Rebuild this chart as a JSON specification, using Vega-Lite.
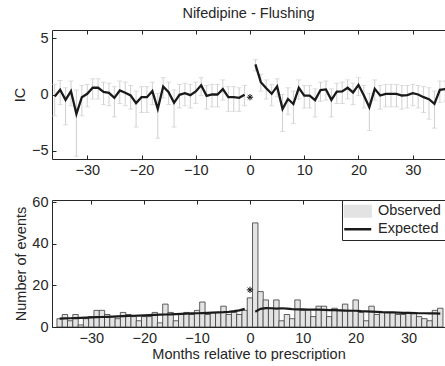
{
  "$schema": "https://vega.github.io/schema/vega-lite/v6.json",
  "padding": {"left": 12, "top": 6, "right": 0, "bottom": 0},
  "spacing": 17,
  "resolve": {"legend": {"color": "independent"}},
  "config": {
    "font": "Liberation Sans",
    "view": {"stroke": null},
    "axis": {
      "domainColor": "#262626", "tickColor": "#262626", "labelColor": "#262626", "titleColor": "#262626",
      "labelFont": "Liberation Sans", "titleFont": "Liberation Sans",
      "labelFontSize": 14.5, "titleFontSize": 14.5, "titleFontWeight": "normal",
      "grid": false, "tickSize": -4, "labelPadding": 8, "domainWidth": 1, "tickWidth": 1
    },
    "legend": {
      "orient": "top-right", "offset": 0, "padding": 4, "rowPadding": 1,
      "strokeColor": "#262626", "fillColor": "white",
      "labelFont": "Liberation Sans", "labelFontSize": 14.5, "labelColor": "#262626",
      "symbolSize": 324, "symbolOffset": 4.5, "labelOffset": 13
    }
  },
  "datasets": {
    "ic": [
      {"m": -36, "ic": -0.18, "lo": -1.9, "hi": 0.9, "side": "pre"},
      {"m": -35, "ic": 0.42, "lo": -0.9, "hi": 1.25, "side": "pre"},
      {"m": -34, "ic": -0.48, "lo": -2.7, "hi": 0.6, "side": "pre"},
      {"m": -33, "ic": 0.3, "lo": -1.0, "hi": 1.2, "side": "pre"},
      {"m": -32, "ic": -1.73, "lo": -5.5, "hi": 0.4, "side": "pre"},
      {"m": -31, "ic": -0.24, "lo": -1.9, "hi": 0.8, "side": "pre"},
      {"m": -30, "ic": 0.06, "lo": -1.1, "hi": 0.9, "side": "pre"},
      {"m": -29, "ic": 0.6, "lo": -0.4, "hi": 1.4, "side": "pre"},
      {"m": -28, "ic": 0.6, "lo": -0.4, "hi": 1.4, "side": "pre"},
      {"m": -27, "ic": 0.24, "lo": -0.9, "hi": 1.1, "side": "pre"},
      {"m": -26, "ic": 0.15, "lo": -1.0, "hi": 1.0, "side": "pre"},
      {"m": -25, "ic": -0.3, "lo": -2.0, "hi": 0.7, "side": "pre"},
      {"m": -24, "ic": 0.36, "lo": -0.8, "hi": 1.2, "side": "pre"},
      {"m": -23, "ic": 0.15, "lo": -1.0, "hi": 1.1, "side": "pre"},
      {"m": -22, "ic": -0.09, "lo": -1.3, "hi": 0.8, "side": "pre"},
      {"m": -21, "ic": -0.77, "lo": -2.9, "hi": 0.3, "side": "pre"},
      {"m": -20, "ic": -0.24, "lo": -1.6, "hi": 0.7, "side": "pre"},
      {"m": -19, "ic": -0.24, "lo": -1.6, "hi": 0.7, "side": "pre"},
      {"m": -18, "ic": 0.3, "lo": -0.9, "hi": 1.1, "side": "pre"},
      {"m": -17, "ic": -1.28, "lo": -3.9, "hi": 0.1, "side": "pre"},
      {"m": -16, "ic": 0.71, "lo": -0.3, "hi": 1.5, "side": "pre"},
      {"m": -15, "ic": 0.2, "lo": -0.9, "hi": 1.1, "side": "pre"},
      {"m": -14, "ic": -0.74, "lo": -2.9, "hi": 0.4, "side": "pre"},
      {"m": -13, "ic": -0.03, "lo": -1.2, "hi": 0.9, "side": "pre"},
      {"m": -12, "ic": 0.12, "lo": -1.0, "hi": 1.0, "side": "pre"},
      {"m": -11, "ic": -0.06, "lo": -1.2, "hi": 0.9, "side": "pre"},
      {"m": -10, "ic": 0.27, "lo": -0.8, "hi": 1.1, "side": "pre"},
      {"m": -9, "ic": 0.83, "lo": -0.1, "hi": 1.5, "side": "pre"},
      {"m": -8, "ic": -0.12, "lo": -1.3, "hi": 0.8, "side": "pre"},
      {"m": -7, "ic": 0.0, "lo": -1.1, "hi": 0.9, "side": "pre"},
      {"m": -6, "ic": 0.0, "lo": -1.1, "hi": 0.9, "side": "pre"},
      {"m": -5, "ic": 0.48, "lo": -0.5, "hi": 1.3, "side": "pre"},
      {"m": -4, "ic": -0.24, "lo": -1.5, "hi": 0.7, "side": "pre"},
      {"m": -3, "ic": -0.24, "lo": -1.5, "hi": 0.7, "side": "pre"},
      {"m": -2, "ic": -0.3, "lo": -1.5, "hi": 0.6, "side": "pre"},
      {"m": -1, "ic": -0.03, "lo": -1.0, "hi": 0.8, "side": "pre"},
      {"m": 1, "ic": 2.68, "lo": 2.1, "hi": 3.1, "side": "post"},
      {"m": 2, "ic": 1.1, "lo": 0.3, "hi": 1.8, "side": "post"},
      {"m": 3, "ic": 0.55, "lo": -0.4, "hi": 1.3, "side": "post"},
      {"m": 4, "ic": 0.06, "lo": -1.0, "hi": 0.9, "side": "post"},
      {"m": 5, "ic": 0.72, "lo": -0.2, "hi": 1.4, "side": "post"},
      {"m": 6, "ic": -1.3, "lo": -3.3, "hi": 0.0, "side": "post"},
      {"m": 7, "ic": -0.4, "lo": -1.8, "hi": 0.6, "side": "post"},
      {"m": 8, "ic": -0.85, "lo": -2.6, "hi": 0.3, "side": "post"},
      {"m": 9, "ic": 0.6, "lo": -0.4, "hi": 1.3, "side": "post"},
      {"m": 10, "ic": -0.1, "lo": -1.2, "hi": 0.8, "side": "post"},
      {"m": 11, "ic": -0.1, "lo": -1.2, "hi": 0.8, "side": "post"},
      {"m": 12, "ic": -0.5, "lo": -2.0, "hi": 0.5, "side": "post"},
      {"m": 13, "ic": 0.4, "lo": -0.6, "hi": 1.1, "side": "post"},
      {"m": 14, "ic": 0.45, "lo": -0.5, "hi": 1.2, "side": "post"},
      {"m": 15, "ic": -0.48, "lo": -2.0, "hi": 0.5, "side": "post"},
      {"m": 16, "ic": 0.25, "lo": -0.8, "hi": 1.0, "side": "post"},
      {"m": 17, "ic": 0.28, "lo": -0.8, "hi": 1.1, "side": "post"},
      {"m": 18, "ic": 0.6, "lo": -0.4, "hi": 1.3, "side": "post"},
      {"m": 19, "ic": 0.18, "lo": -0.9, "hi": 1.0, "side": "post"},
      {"m": 20, "ic": 0.86, "lo": -0.1, "hi": 1.5, "side": "post"},
      {"m": 21, "ic": -0.09, "lo": -1.2, "hi": 0.8, "side": "post"},
      {"m": 22, "ic": -1.13, "lo": -3.2, "hi": 0.1, "side": "post"},
      {"m": 23, "ic": 0.5, "lo": -0.5, "hi": 1.3, "side": "post"},
      {"m": 24, "ic": -0.09, "lo": -1.3, "hi": 0.8, "side": "post"},
      {"m": 25, "ic": 0.06, "lo": -1.1, "hi": 0.9, "side": "post"},
      {"m": 26, "ic": 0.06, "lo": -1.1, "hi": 0.9, "side": "post"},
      {"m": 27, "ic": 0.06, "lo": -1.1, "hi": 0.9, "side": "post"},
      {"m": 28, "ic": -0.09, "lo": -1.3, "hi": 0.8, "side": "post"},
      {"m": 29, "ic": -0.06, "lo": -1.2, "hi": 0.8, "side": "post"},
      {"m": 30, "ic": 0.12, "lo": -1.0, "hi": 0.9, "side": "post"},
      {"m": 31, "ic": 0.0, "lo": -1.2, "hi": 0.8, "side": "post"},
      {"m": 32, "ic": -0.24, "lo": -1.6, "hi": 0.7, "side": "post"},
      {"m": 33, "ic": -0.42, "lo": -2.2, "hi": 0.6, "side": "post"},
      {"m": 34, "ic": -0.83, "lo": -3.0, "hi": 0.3, "side": "post"},
      {"m": 35, "ic": 0.42, "lo": -0.7, "hi": 1.2, "side": "post"},
      {"m": 36, "ic": 0.48, "lo": -0.6, "hi": 1.2, "side": "post"}
    ],
    "star": [{"m": 0, "ic": -0.24, "obs": 14}],
    "cnt": [
      {"m": -36, "obs": 4}, {"m": -35, "obs": 6}, {"m": -34, "obs": 3}, {"m": -33, "obs": 6},
      {"m": -32, "obs": 1}, {"m": -31, "obs": 4}, {"m": -30, "obs": 5}, {"m": -29, "obs": 8},
      {"m": -28, "obs": 8}, {"m": -27, "obs": 6}, {"m": -26, "obs": 5}, {"m": -25, "obs": 4},
      {"m": -24, "obs": 7}, {"m": -23, "obs": 6}, {"m": -22, "obs": 5}, {"m": -21, "obs": 3},
      {"m": -20, "obs": 5}, {"m": -19, "obs": 5}, {"m": -18, "obs": 7}, {"m": -17, "obs": 2},
      {"m": -16, "obs": 11}, {"m": -15, "obs": 7}, {"m": -14, "obs": 3}, {"m": -13, "obs": 6},
      {"m": -12, "obs": 7}, {"m": -11, "obs": 6}, {"m": -10, "obs": 8}, {"m": -9, "obs": 12},
      {"m": -8, "obs": 6}, {"m": -7, "obs": 7}, {"m": -6, "obs": 7}, {"m": -5, "obs": 10},
      {"m": -4, "obs": 6}, {"m": -3, "obs": 7}, {"m": -2, "obs": 6}, {"m": -1, "obs": 8},
      {"m": 0, "obs": 14}, {"m": 1, "obs": 50}, {"m": 2, "obs": 17}, {"m": 3, "obs": 13},
      {"m": 4, "obs": 9}, {"m": 5, "obs": 13}, {"m": 6, "obs": 3}, {"m": 7, "obs": 6},
      {"m": 8, "obs": 4}, {"m": 9, "obs": 13}, {"m": 10, "obs": 8}, {"m": 11, "obs": 8},
      {"m": 12, "obs": 5}, {"m": 13, "obs": 10}, {"m": 14, "obs": 10}, {"m": 15, "obs": 5},
      {"m": 16, "obs": 9}, {"m": 17, "obs": 8}, {"m": 18, "obs": 11}, {"m": 19, "obs": 8},
      {"m": 20, "obs": 13}, {"m": 21, "obs": 7}, {"m": 22, "obs": 3}, {"m": 23, "obs": 10},
      {"m": 24, "obs": 6}, {"m": 25, "obs": 7}, {"m": 26, "obs": 7}, {"m": 27, "obs": 7},
      {"m": 28, "obs": 6}, {"m": 29, "obs": 6}, {"m": 30, "obs": 7}, {"m": 31, "obs": 7},
      {"m": 32, "obs": 5}, {"m": 33, "obs": 4}, {"m": 34, "obs": 3}, {"m": 35, "obs": 8},
      {"m": 36, "obs": 9}
    ],
    "exp": [
      {"m": -36, "exp": 4.0, "side": "pre"}, {"m": -35, "exp": 4.1, "side": "pre"}, {"m": -34, "exp": 4.2, "side": "pre"},
      {"m": -33, "exp": 4.3, "side": "pre"}, {"m": -32, "exp": 4.4, "side": "pre"}, {"m": -31, "exp": 4.5, "side": "pre"},
      {"m": -30, "exp": 4.6, "side": "pre"}, {"m": -29, "exp": 4.7, "side": "pre"}, {"m": -28, "exp": 4.8, "side": "pre"},
      {"m": -27, "exp": 4.9, "side": "pre"}, {"m": -26, "exp": 5.0, "side": "pre"}, {"m": -25, "exp": 5.1, "side": "pre"},
      {"m": -24, "exp": 5.2, "side": "pre"}, {"m": -23, "exp": 5.3, "side": "pre"}, {"m": -22, "exp": 5.4, "side": "pre"},
      {"m": -21, "exp": 5.5, "side": "pre"}, {"m": -20, "exp": 5.6, "side": "pre"}, {"m": -19, "exp": 5.7, "side": "pre"},
      {"m": -18, "exp": 5.8, "side": "pre"}, {"m": -17, "exp": 5.9, "side": "pre"}, {"m": -16, "exp": 6.0, "side": "pre"},
      {"m": -15, "exp": 6.1, "side": "pre"}, {"m": -14, "exp": 6.2, "side": "pre"}, {"m": -13, "exp": 6.3, "side": "pre"},
      {"m": -12, "exp": 6.4, "side": "pre"}, {"m": -11, "exp": 6.5, "side": "pre"}, {"m": -10, "exp": 6.6, "side": "pre"},
      {"m": -9, "exp": 6.7, "side": "pre"}, {"m": -8, "exp": 6.8, "side": "pre"}, {"m": -7, "exp": 6.9, "side": "pre"},
      {"m": -6, "exp": 7.0, "side": "pre"}, {"m": -5, "exp": 7.1, "side": "pre"}, {"m": -4, "exp": 7.3, "side": "pre"},
      {"m": -3, "exp": 7.6, "side": "pre"}, {"m": -2, "exp": 8.0, "side": "pre"}, {"m": -1, "exp": 8.7, "side": "pre"},
      {"m": 1, "exp": 7.3, "side": "post"}, {"m": 2, "exp": 8.7, "side": "post"}, {"m": 3, "exp": 9.1, "side": "post"},
      {"m": 4, "exp": 9.0, "side": "post"}, {"m": 5, "exp": 8.8, "side": "post"}, {"m": 6, "exp": 9.0, "side": "post"},
      {"m": 7, "exp": 8.8, "side": "post"}, {"m": 8, "exp": 8.6, "side": "post"}, {"m": 9, "exp": 8.5, "side": "post"},
      {"m": 10, "exp": 8.5, "side": "post"}, {"m": 11, "exp": 8.4, "side": "post"}, {"m": 12, "exp": 8.3, "side": "post"},
      {"m": 13, "exp": 8.3, "side": "post"}, {"m": 14, "exp": 8.2, "side": "post"}, {"m": 15, "exp": 8.1, "side": "post"},
      {"m": 16, "exp": 8.1, "side": "post"}, {"m": 17, "exp": 8.0, "side": "post"}, {"m": 18, "exp": 7.9, "side": "post"},
      {"m": 19, "exp": 7.8, "side": "post"}, {"m": 20, "exp": 7.8, "side": "post"}, {"m": 21, "exp": 7.6, "side": "post"},
      {"m": 22, "exp": 7.5, "side": "post"}, {"m": 23, "exp": 7.4, "side": "post"}, {"m": 24, "exp": 7.3, "side": "post"},
      {"m": 25, "exp": 7.1, "side": "post"}, {"m": 26, "exp": 7.0, "side": "post"}, {"m": 27, "exp": 7.0, "side": "post"},
      {"m": 28, "exp": 6.9, "side": "post"}, {"m": 29, "exp": 6.8, "side": "post"}, {"m": 30, "exp": 6.8, "side": "post"},
      {"m": 31, "exp": 6.7, "side": "post"}, {"m": 32, "exp": 6.6, "side": "post"}, {"m": 33, "exp": 6.6, "side": "post"},
      {"m": 34, "exp": 6.5, "side": "post"}, {"m": 35, "exp": 6.5, "side": "post"}, {"m": 36, "exp": 6.4, "side": "post"}
    ]
  },
  "vconcat": [
    {
      "width": 393,
      "height": 129,
      "title": {"text": "Nifedipine - Flushing", "font": "Liberation Sans", "fontSize": 14.5, "fontWeight": "normal", "color": "#262626", "frame": "group", "anchor": "middle", "offset": 8},
      "resolve": {"axis": {"x": "independent"}},
      "layer": [
        {
          "data": {"name": "ic"},
          "mark": {"type": "rule", "color": "#cfcfcf", "strokeWidth": 1, "clip": true},
          "encoding": {
            "x": {"field": "m", "type": "quantitative", "scale": {"domain": [-36.5, 35.95], "nice": false, "zero": false},
                  "axis": {"orient": "bottom", "values": [-30, -20, -10, 0, 10, 20, 30], "title": null}},
            "y": {"field": "lo", "type": "quantitative", "title": "IC", "scale": {"domain": [-5.75, 5.75], "nice": false, "zero": false},
                  "axis": {"values": [-5, 0, 5], "titleX": -28, "titleBaseline": "alphabetic"}},
            "y2": {"field": "hi"}
          }
        },
        {
          "data": {"name": "ic"},
          "mark": {"type": "tick", "orient": "horizontal", "color": "#cfcfcf", "size": 5, "thickness": 1, "clip": true},
          "encoding": {
            "x": {"field": "m", "type": "quantitative", "scale": {"domain": [-36.5, 35.95], "nice": false, "zero": false},
                  "axis": {"orient": "top", "values": [-30, -20, -10, 0, 10, 20, 30], "labels": false, "title": null}},
            "y": {"field": "lo", "type": "quantitative", "title": "IC", "scale": {"domain": [-5.75, 5.75], "nice": false, "zero": false}}
          }
        },
        {
          "data": {"name": "ic"},
          "mark": {"type": "tick", "orient": "horizontal", "color": "#cfcfcf", "size": 5, "thickness": 1, "clip": true},
          "encoding": {
            "x": {"field": "m", "type": "quantitative", "scale": {"domain": [-36.5, 35.95], "nice": false, "zero": false}, "axis": null},
            "y": {"field": "hi", "type": "quantitative", "title": "IC", "scale": {"domain": [-5.75, 5.75], "nice": false, "zero": false}}
          }
        },
        {
          "mark": {"type": "rule", "color": "#444", "strokeDash": [1.5, 2.5], "strokeWidth": 1},
          "encoding": {
            "y": {"datum": 0, "type": "quantitative", "title": "IC", "scale": {"domain": [-5.75, 5.75], "nice": false, "zero": false}}
          }
        },
        {
          "mark": {"type": "rule", "color": "#111", "strokeDash": [1.5, 2], "strokeWidth": 1},
          "encoding": {
            "x": {"datum": 0, "type": "quantitative", "scale": {"domain": [-36.5, 35.95], "nice": false, "zero": false}, "axis": null}
          }
        },
        {
          "data": {"name": "ic"},
          "mark": {"type": "line", "color": "#1a1a1a", "strokeWidth": 2.3, "clip": true},
          "encoding": {
            "x": {"field": "m", "type": "quantitative", "scale": {"domain": [-36.5, 35.95], "nice": false, "zero": false}, "axis": null},
            "y": {"field": "ic", "type": "quantitative", "title": "IC", "scale": {"domain": [-5.75, 5.75], "nice": false, "zero": false}},
            "detail": {"field": "side"}
          }
        },
        {
          "data": {"name": "star"},
          "mark": {"type": "point", "shape": "M0,-1V1M-1,0H1M-0.7,-0.7L0.7,0.7M-0.7,0.7L0.7,-0.7", "size": 40, "stroke": "#111", "strokeWidth": 1, "filled": false, "opacity": 1},
          "encoding": {
            "x": {"field": "m", "type": "quantitative", "scale": {"domain": [-36.5, 35.95], "nice": false, "zero": false}, "axis": null},
            "y": {"field": "ic", "type": "quantitative", "title": "IC", "scale": {"domain": [-5.75, 5.75], "nice": false, "zero": false}}
          }
        }
      ]
    },
    {
      "width": 393,
      "height": 127,
      "resolve": {"axis": {"x": "independent"}},
      "layer": [
        {
          "data": {"name": "cnt"},
          "mark": {"type": "bar", "width": 5.43, "stroke": "#3a3a3a", "strokeWidth": 0.8, "clip": true},
          "encoding": {
            "x": {"field": "m", "type": "quantitative", "scale": {"domain": [-36.5, 35.95], "nice": false, "zero": false},
                  "axis": {"orient": "bottom", "values": [-30, -20, -10, 0, 10, 20, 30], "title": "Months relative to prescription", "titlePadding": 3}},
            "y": {"field": "obs", "type": "quantitative", "title": "Number of events", "scale": {"domain": [0, 61], "nice": false},
                  "axis": {"values": [0, 20, 40, 60], "titleX": -27, "titleBaseline": "alphabetic"}},
            "color": {
              "datum": "Observed",
              "scale": {"domain": ["Observed", "Expected"], "range": ["#e3e3e3", "#1a1a1a"]},
              "legend": {
                "title": null,
                "encode": {
                  "symbols": {
                    "update": {
                      "shape": {"signal": "datum.value === 'Observed' ? 'M-1.5,-0.65H1.5V0.65H-1.5Z' : 'M-1.5,0H1.5'"},
                      "fill": {"signal": "datum.value === 'Observed' ? '#e3e3e3' : 'transparent'"},
                      "stroke": {"signal": "datum.value === 'Observed' ? '#555555' : '#1a1a1a'"},
                      "strokeWidth": {"signal": "datum.value === 'Observed' ? 1.2 : 2.5"},
                      "strokeOpacity": {"value": 1},
                      "opacity": {"value": 1}
                    }
                  }
                }
              }
            }
          }
        },
        {
          "data": {"name": "exp"},
          "mark": {"type": "line", "strokeWidth": 2.2, "clip": true},
          "encoding": {
            "x": {"field": "m", "type": "quantitative", "scale": {"domain": [-36.5, 35.95], "nice": false, "zero": false},
                  "axis": {"orient": "top", "values": [-30, -20, -10, 0, 10, 20, 30], "labels": false, "title": null}},
            "y": {"field": "exp", "type": "quantitative", "title": "Number of events", "scale": {"domain": [0, 61], "nice": false}},
            "color": {
              "datum": "Expected",
              "legend": {
                "title": null,
                "encode": {
                  "symbols": {
                    "update": {
                      "shape": {"signal": "datum.value === 'Observed' ? 'M-1.5,-0.65H1.5V0.65H-1.5Z' : 'M-1.5,0H1.5'"},
                      "fill": {"signal": "datum.value === 'Observed' ? '#e3e3e3' : 'transparent'"},
                      "stroke": {"signal": "datum.value === 'Observed' ? '#555555' : '#1a1a1a'"},
                      "strokeWidth": {"signal": "datum.value === 'Observed' ? 1.2 : 2.5"},
                      "strokeOpacity": {"value": 1},
                      "opacity": {"value": 1}
                    }
                  }
                }
              }
            },
            "detail": {"field": "side"}
          }
        },
        {
          "mark": {"type": "rule", "color": "#111", "strokeDash": [1.5, 2], "strokeWidth": 1},
          "encoding": {
            "x": {"datum": 0, "type": "quantitative", "scale": {"domain": [-36.5, 35.95], "nice": false, "zero": false}, "axis": null}
          }
        },
        {
          "data": {"name": "star"},
          "mark": {"type": "point", "shape": "M0,-1V1M-1,0H1M-0.7,-0.7L0.7,0.7M-0.7,0.7L0.7,-0.7", "size": 40, "stroke": "#111", "strokeWidth": 1, "filled": false, "opacity": 1, "yOffset": -8},
          "encoding": {
            "x": {"field": "m", "type": "quantitative", "scale": {"domain": [-36.5, 35.95], "nice": false, "zero": false}, "axis": null},
            "y": {"field": "obs", "type": "quantitative", "title": "Number of events", "scale": {"domain": [0, 61], "nice": false}}
          }
        }
      ]
    }
  ]
}
